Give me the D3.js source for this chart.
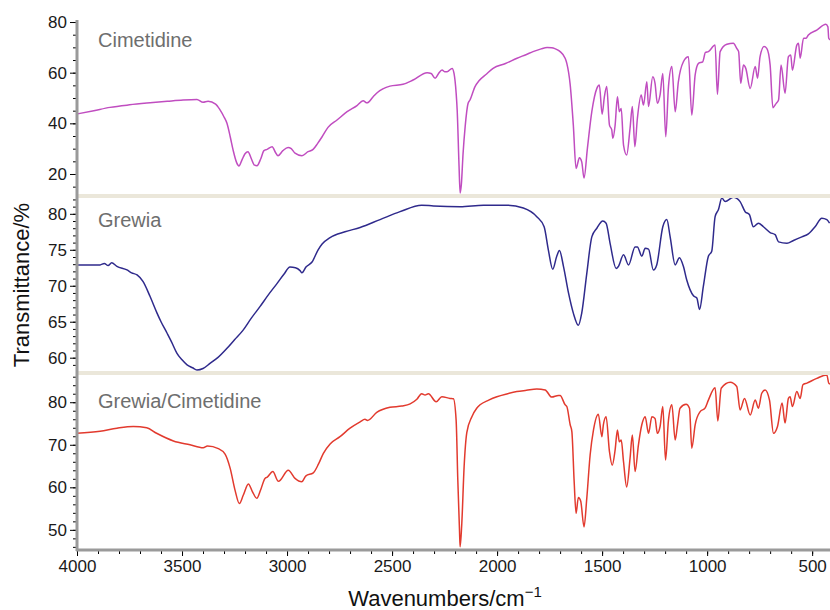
<!DOCTYPE html>
<html>
<head>
<meta charset="utf-8">
<script src="https://cdnjs.cloudflare.com/ajax/libs/d3/7.8.5/d3.min.js"></script>
<style>
body{margin:0;background:#fff;}
svg{font-family:"Liberation Sans",Arial,Helvetica,sans-serif;}
</style>
</head>
<body>
<svg id="chart" width="830" height="610"></svg>
<script>
/*global d3*/

// spectra: [wavenumber, transmittance %]
var cimetidine = [[4000,43.7],[3920,45.0],[3843,46.3],[3750,47.3],[3652,48.1],[3570,48.7],[3495,49.2],[3429,49.4],[3400,48.3],[3376,48.7],[3340,47.6],[3319,45.3],[3300,42.5],[3286,40.0],[3270,34.5],[3257,29.5],[3240,24.5],[3229,23.2],[3215,25.5],[3200,28],[3186,28.8],[3170,26],[3155,23.5],[3143,23.3],[3125,26],[3110,29.2],[3095,29.7],[3071,30.8],[3055,28.5],[3043,27.2],[3020,29.2],[2995,30.5],[2980,30],[2962,28.2],[2929,27.2],[2900,28.8],[2876,29.7],[2855,32],[2833,34.7],[2805,38.4],[2762,41.3],[2714,44.6],[2667,47.0],[2638,48.9],[2619,48.1],[2590,50.5],[2571,52.1],[2510,54.7],[2448,55.4],[2400,57.1],[2333,60.0],[2314,59.7],[2295,57.8],[2280,59.5],[2262,61.1],[2250,60.4],[2238,60.4],[2214,61.7],[2205,59.7],[2195,52],[2190,45.3],[2181,22.9],[2176,12.5],[2170,16],[2162,28],[2152,38.7],[2138,47.9],[2129,49.2],[2105,54.5],[2086,56.8],[2050,59.5],[2019,61.7],[1960,63.6],[1905,65.7],[1860,67.2],[1829,68.3],[1790,69.4],[1762,69.9],[1740,69.8],[1725,69.5],[1710,68.9],[1700,68.3],[1676,65.7],[1668,63.7],[1652,55.3],[1637,39.3],[1624,22.2],[1608,26.4],[1597,24.8],[1586,18.4],[1570,30.1],[1549,44.6],[1525,53.8],[1513,55.1],[1500,43.6],[1489,50.5],[1478,54.5],[1465,39.3],[1454,37.4],[1449,34.1],[1438,39.3],[1427,50.5],[1418,44.6],[1409,45.9],[1398,31.4],[1383,27.5],[1367,38.0],[1356,46.6],[1344,30.8],[1332,42.0],[1314,51.2],[1303,47.2],[1287,56.4],[1279,46.6],[1259,58.4],[1248,55.8],[1237,47.9],[1224,51.2],[1211,59.7],[1197,34.7],[1184,54.5],[1168,62.4],[1152,44.6],[1137,56.4],[1113,64.3],[1089,66.3],[1073,43.3],[1057,59.1],[1041,63.7],[1021,64.3],[1008,68.0],[994,68.3],[962,70.9],[951,51.5],[938,68.3],[906,71.2],[875,71.6],[859,69.6],[850,68.3],[840,55.8],[827,63.0],[816,61.7],[795,53.8],[771,62.4],[760,57.8],[748,66.3],[729,70.3],[716,69.6],[700,63.0],[687,46.2],[671,47.9],[660,49.2],[648,63.0],[629,51.9],[613,66.3],[602,67.0],[594,61.0],[573,70.9],[565,71.6],[557,65.7],[541,73.6],[529,73.6],[518,74.9],[478,76.8],[435,79.1],[425,78.1],[421,73.6],[415,73]];

var grewia = [[4000,72.9],[3940,72.9],[3890,72.9],[3870,73.1],[3852,72.8],[3835,73.2],[3810,72.7],[3762,72.2],[3740,71.8],[3714,71.5],[3686,70.6],[3652,68.5],[3619,66.2],[3600,65.0],[3571,63.4],[3550,62.2],[3524,60.6],[3500,59.7],[3476,59.0],[3450,58.6],[3429,58.3],[3400,58.5],[3367,59.2],[3330,60.0],[3286,61.3],[3250,62.5],[3210,63.8],[3170,65.5],[3129,67.1],[3090,68.7],[3048,70.3],[3015,71.6],[2986,72.6],[2960,72.5],[2938,72.1],[2929,71.8],[2910,72.6],[2881,73.3],[2852,75.0],[2833,75.8],[2795,76.7],[2724,77.5],[2652,78.1],[2557,79.2],[2462,80.3],[2359,81.2],[2303,81.1],[2176,81.0],[2065,81.2],[1954,81.2],[1875,80.8],[1811,79.6],[1776,78.2],[1756,75.0],[1735,72.3],[1716,74.1],[1703,74.9],[1684,72.7],[1660,69.0],[1637,66.2],[1613,64.5],[1597,66.2],[1573,71.7],[1549,76.8],[1525,78.0],[1497,79.0],[1481,78.7],[1462,75.9],[1433,72.4],[1422,72.7],[1398,74.3],[1374,72.9],[1343,75.4],[1332,75.4],[1311,74.1],[1295,75.2],[1279,75.1],[1256,72.2],[1240,72.9],[1211,78.2],[1192,79.2],[1176,76.8],[1152,72.9],[1132,73.9],[1113,72.7],[1097,70.8],[1065,68.6],[1049,68.3],[1036,66.7],[1018,69.9],[994,74.1],[978,74.8],[962,79.6],[946,80.6],[930,82.2],[914,81.7],[875,82.3],[843,81.7],[819,80.3],[799,79.9],[780,78.2],[756,78.7],[732,78.2],[700,77.4],[676,77.1],[660,76.1],[620,75.9],[589,76.3],[549,76.8],[518,77.2],[486,78.2],[454,79.4],[430,79.2],[417,78.7]];

var grewiaCim = [[4000,72.7],[3890,73.2],[3810,73.9],[3732,74.3],[3668,74.0],[3621,72.7],[3541,70.9],[3462,70.0],[3399,69.3],[3379,69.7],[3327,69.1],[3295,67.8],[3271,64.5],[3248,59.4],[3227,56.2],[3208,58.2],[3184,60.8],[3165,59],[3144,57.4],[3125,59.5],[3105,62.1],[3094,62.4],[3068,63.7],[3041,61.4],[2994,64.0],[2962,62.1],[2930,61.3],[2910,62.7],[2875,63.4],[2850,65.5],[2827,68.0],[2795,70.2],[2748,71.9],[2700,73.9],[2652,75.4],[2629,76.0],[2617,75.7],[2573,77.6],[2510,78.8],[2454,79.1],[2414,79.6],[2382,80.7],[2359,82.0],[2343,81.7],[2327,82.0],[2290,80.1],[2263,81.3],[2224,80.9],[2208,80.8],[2195,75.8],[2187,61.7],[2179,50.0],[2176,46.0],[2168,51.5],[2157,64.8],[2144,72.9],[2120,76.6],[2097,78.6],[2081,79.4],[2040,80.5],[2001,81.3],[1950,82.0],[1906,82.5],[1860,82.8],[1811,83.1],[1771,82.9],[1740,81.2],[1708,81.6],[1700,81.6],[1676,79.4],[1668,79.0],[1652,74.7],[1644,73.1],[1633,61.3],[1624,53.9],[1613,57.6],[1602,56.8],[1586,50.7],[1573,57.4],[1557,67.6],[1541,73.5],[1518,77.2],[1501,71.9],[1494,74.7],[1481,76.6],[1465,68.4],[1452,65.2],[1438,68.8],[1427,73.5],[1418,70.7],[1409,71.1],[1398,66.0],[1383,60.1],[1367,66.8],[1356,72.3],[1343,63.7],[1327,70.0],[1311,74.7],[1295,76.6],[1279,72.7],[1263,76.6],[1248,76.2],[1237,72.7],[1224,74.3],[1211,79.0],[1198,66.4],[1184,75.8],[1168,79.4],[1152,71.1],[1141,74.7],[1129,78.6],[1100,79.5],[1084,78.6],[1073,69.2],[1057,74.7],[1033,77.8],[1010,78.6],[994,80.5],[962,83.4],[949,75.6],[933,83.3],[890,84.7],[859,83.7],[843,78.2],[822,80.9],[795,77.0],[771,80.5],[756,78.6],[740,82.1],[724,82.9],[703,80.5],[684,72.7],[665,74.3],[643,79.8],[629,75.1],[613,80.9],[605,81.3],[594,79.0],[573,82.5],[557,80.9],[544,84.1],[525,84.5],[478,85.6],[430,86.4],[421,84.5],[415,84.3]];

var xTicks = [4000,3500,3000,2500,2000,1500,1000,500];
var cimTicks = [20,40,60,80];
var grewiaTicks = [60,65,70,75,80];
var mixTicks = [50,60,70,80];

var left = 77, right = 830, bottom = 549;

var x = d3.scaleLinear().domain([4000, 415]).range([left, right]);

var panels = [
  {label:"Cimetidine", data:cimetidine, color:"#c04dc0", top:20, bot:194, domain:[12.1,80.8], ticks:cimTicks, minor:5, ly:47},
  {label:"Grewia", data:grewia, color:"#2f2a8c", top:198, bot:371, domain:[58.15,82.2], ticks:grewiaTicks, minor:1, ly:227},
  {label:"Grewia/Cimetidine", data:grewiaCim, color:"#e23a2e", top:375, bot:549, domain:[45.5,86.4], ticks:mixTicks, minor:2, ly:408}
];

var svg = d3.select("#chart");

panels.forEach(function(p){
  var y = d3.scaleLinear().domain(p.domain).range([p.bot, p.top]);

  var line = d3.line()
    .curve(d3.curveMonotoneX)
    .x(function(d){ return x(d[0]); })
    .y(function(d){ return y(d[1]); });

  svg.append("path")
    .datum(p.data)
    .attr("fill","none")
    .attr("stroke",p.color)
    .attr("stroke-width",1.5)
    .attr("stroke-linejoin","round")
    .attr("d",line);

  svg.append("text")
    .attr("x",98)
    .attr("y",p.ly)
    .attr("fill","#6e6e6e")
    .style("font-size","20px")
    .text(p.label);

  // minor ticks
  var minors = d3.range(Math.ceil(p.domain[0]/p.minor)*p.minor, p.domain[1], p.minor);
  svg.append("g")
    .attr("transform","translate(" + (left-1) + ",0)")
    .call(d3.axisLeft(y).tickValues(minors).tickSize(3).tickFormat(""))
    .call(function(g){ g.select(".domain").remove(); });

  // major ticks
  var ax = svg.append("g")
    .attr("transform","translate(" + (left-1) + ",0)")
    .call(d3.axisLeft(y).tickValues(p.ticks).tickSize(6).tickPadding(3));
  ax.select(".domain").remove();
  ax.selectAll("text").style("font-size","17px").attr("fill","#1a1a1a").attr("font-family","Liberation Sans, Arial");
});

// separator bands between panels
[194,371].forEach(function(b){
  svg.append("rect")
    .attr("x",left+1).attr("y",b).attr("width",right-left).attr("height",4)
    .attr("fill","#ebe7da");
});

// axis bars
svg.append("line")
  .attr("x1",left).attr("x2",left).attr("y1",20).attr("y2",bottom+2)
  .attr("stroke","#9a9a9a").attr("stroke-width",3);

var xMinor = d3.range(500, 4001, 100);
svg.append("g")
  .attr("transform","translate(0," + (bottom+1) + ")")
  .call(d3.axisBottom(x).tickValues(xMinor).tickSize(4).tickFormat(""))
  .call(function(g){ g.select(".domain").remove(); });

var xa = svg.append("g")
  .attr("transform","translate(0," + (bottom+1) + ")")
  .call(d3.axisBottom(x).tickValues(xTicks).tickSize(6).tickPadding(4).tickFormat(d3.format("d")));
xa.select(".domain").remove();
xa.selectAll("text").style("font-size","17px").attr("fill","#1a1a1a").attr("font-family","Liberation Sans, Arial");

svg.append("line")
  .attr("x1",left-1).attr("x2",right).attr("y1",bottom+1).attr("y2",bottom+1)
  .attr("stroke","#9a9a9a").attr("stroke-width",3);

// axis titles
svg.append("text")
  .attr("transform","translate(29,285) rotate(-90)")
  .attr("text-anchor","middle")
  .attr("fill","#111")
  .style("font-size","22px")
  .text("Transmittance/%");

var xt = svg.append("text")
  .attr("x",445).attr("y",606)
  .attr("text-anchor","middle")
  .attr("fill","#111")
  .style("font-size","22px");
xt.append("tspan").text("Wavenumbers/cm");
xt.append("tspan").attr("dy",-9).style("font-size","15px").text("\u22121");
</script>
</body>
</html>
